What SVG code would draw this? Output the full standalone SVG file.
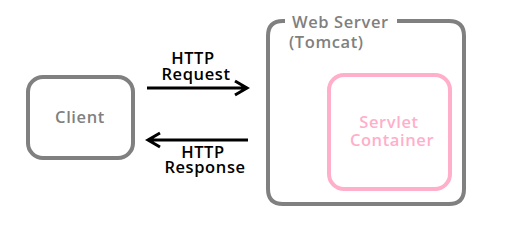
<svg xmlns="http://www.w3.org/2000/svg" width="510" height="229" viewBox="0 0 510 229">
<style>
text{font-family:"Open Sans","Noto Sans","DejaVu Sans",sans-serif;font-size:16.5px;font-weight:600;letter-spacing:0.6px}
.g{fill:#808080}
.p{fill:#FFAFCA}
.k{fill:#000}
.box{fill:none;stroke-width:4}
.conn{stroke:#000;stroke-width:3;fill:none}
</style>
<rect width="510" height="229" fill="#fff"/>
<g id="client">
<rect class="box" x="28" y="77" width="105" height="81" rx="15" stroke="#808080"/>
<text class="g" x="80" y="122.5" text-anchor="middle">Client</text>
</g>
<g id="webserver">
<path class="box" stroke="#808080" d="M397 21 H449 Q464 21 464 36 V189 Q464 204 449 204 H283 Q268 204 268 189 V36 Q268 21 283 21 H285"/>
<text class="g" x="292" y="28">Web Server</text>
<text class="g" x="289" y="48">(Tomcat)</text>
</g>
<g id="servlet">
<rect class="box" x="329" y="75" width="121" height="114" rx="15" stroke="#FFAFCA"/>
<text class="p" x="389" y="128" text-anchor="middle">Servlet</text>
<text class="p" x="392" y="145.5" text-anchor="middle">Container</text>
</g>
<g id="connectors">
<path class="conn" d="M147 88 H247 M235 81 L247 88 L235 95"/>
<text class="k" x="193" y="64" text-anchor="middle">HTTP</text>
<text class="k" x="196" y="79.5" text-anchor="middle">Request</text>
<path class="conn" d="M248 140 H148 M160 133 L148 140 L160 147"/>
<text class="k" x="203" y="157.7" text-anchor="middle">HTTP</text>
<text class="k" x="205" y="173.3" text-anchor="middle">Response</text>
</g>
</svg>
